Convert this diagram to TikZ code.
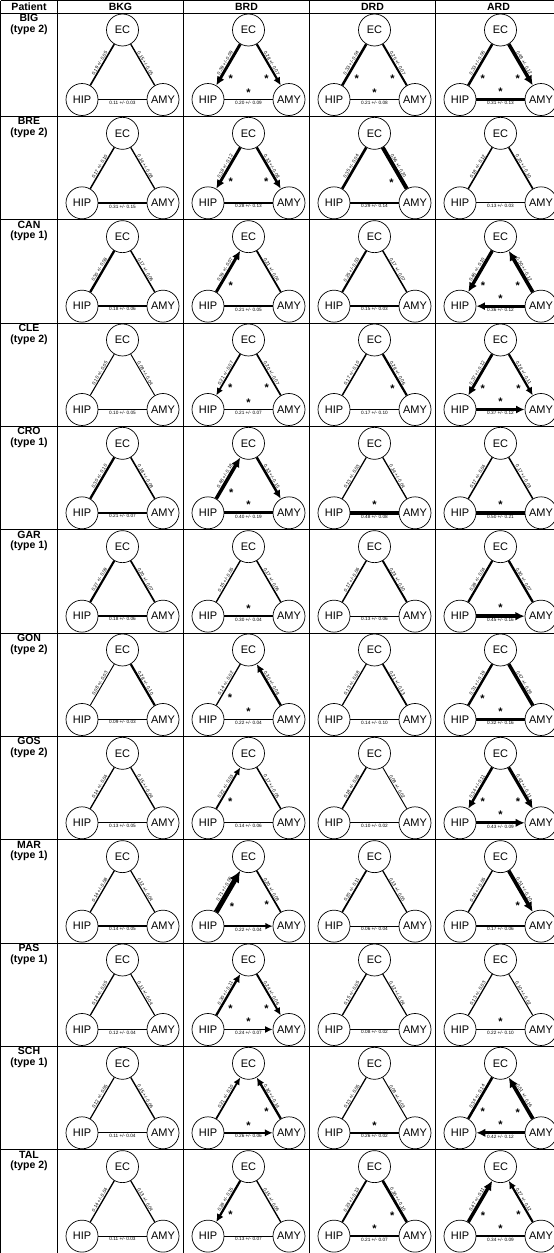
\documentclass[tikz,border=0pt]{standalone}
\usepackage{fontspec}
\setmainfont{Liberation Sans}
\usetikzlibrary{arrows.meta}

% one edge of a triangle: cell, arrow, value, error, star
\newcommand{\linkup}[5]{\draw[lnk, #2, line width=#3*6.5pt+0.4pt] (hip-#1) -- node[val, sloped] {#3 +/- #4} node[sig, pos=0.35] {#5} (ec-#1);}
\newcommand{\linkdown}[5]{\draw[lnk, #2, line width=#3*6.5pt+0.4pt] (ec-#1) -- node[val, sloped] {#3 +/- #4} node[sig, pos=0.65] {#5} (amy-#1);}
\newcommand{\linkbase}[5]{\draw[lnk, #2, line width=#3*6.5pt+0.4pt] (amy-#1) -- node[val] {#3 +/- #4} node[sig] {#5} (hip-#1);}

\begin{document}
\begin{tikzpicture}[x=1pt, y=1pt,
        >={Latex[length=5pt 1.3, width=4.5pt 1.3]},
        roi/.style={circle, draw, fill=white, line width=0.7pt, minimum size=32pt, inner sep=0pt, font=\fontsize{11}{12}\selectfont},
        lnk/.style={draw=black},
        val/.style={auto, inner sep=0.6pt, font=\fontsize{4.7}{5}\selectfont},
        sig/.style={auto=right, inner sep=2.6pt, font=\bfseries\fontsize{11}{11}\selectfont},
        patient/.style={anchor=north, align=center, inner sep=0pt, font=\bfseries\fontsize{10.5}{10.5}\selectfont},
        head/.style={inner sep=0pt, font=\bfseries\fontsize{10.5}{11}\selectfont},
        rule/.style={line width=0.6pt},
    ]
    \useasboundingbox (0,0) rectangle (554,-1253);

    % === table grid ===
    \draw[rule] (0.5,-0.5) -- (554,-0.5);
    \draw[rule] (0.5,-13) -- (554,-13);
    \foreach \r in {1,...,11}
        \draw[rule] (0.5,-13-103.33*\r) -- (554,-13-103.33*\r);
    \foreach \x in {0.5,57.5,183.5,309.5,435.5}
        \draw[rule] (\x,-0.5) -- (\x,-1253);

    % === header ===
    \node[head] (hd-p) at (29,-7) {Patient};
    \foreach \cond [count=\c from 0] in {BKG,BRD,DRD,ARD}
        \node[head] (hd-\c) at (120.5+126*\c,-7) {\cond};

    % === triangles ===
    \foreach \pat/\kind [count=\r from 0] in {BIG/2,BRE/2,CAN/1,CLE/2,CRO/1,GAR/1,GON/2,GOS/2,MAR/1,PAS/1,SCH/1,TAL/2} {
        \node[patient] (pat-\r) at (29,-14-103.33*\r) {\pat\\(type \kind)};
        \foreach \c in {0,...,3} {
            \node[roi] (ec-\r-\c) at (122.5+126*\c,-30-103.33*\r) {EC};
            \node[roi] (hip-\r-\c) at (82+126*\c,-99.5-103.33*\r) {HIP};
            \node[roi] (amy-\r-\c) at (163+126*\c,-99.5-103.33*\r) {AMY};
        }
    }

    % BIG
    \linkup{0-0}{-}{0.19}{0.05}{} \linkdown{0-0}{-}{0.15}{0.05}{} \linkbase{0-0}{-}{0.11}{0.03}{}
    \linkup{0-1}{<-}{0.39}{0.09}{*} \linkdown{0-1}{->}{0.28}{0.07}{*} \linkbase{0-1}{-}{0.20}{0.09}{*}
    \linkup{0-2}{-}{0.33}{0.04}{*} \linkdown{0-2}{-}{0.25}{0.07}{*} \linkbase{0-2}{-}{0.21}{0.08}{*}
    \linkup{0-3}{-}{0.33}{0.06}{*} \linkdown{0-3}{->}{0.49}{0.12}{*} \linkbase{0-3}{-}{0.31}{0.13}{*}
    % BRE
    \linkup{1-0}{-}{0.17}{0.10}{} \linkdown{1-0}{-}{0.14}{0.08}{} \linkbase{1-0}{-}{0.31}{0.15}{}
    \linkup{1-1}{<-}{0.38}{0.12}{*} \linkdown{1-1}{->}{0.33}{0.08}{*} \linkbase{1-1}{-}{0.28}{0.13}{}
    \linkup{1-2}{-}{0.35}{0.04}{} \linkdown{1-2}{-}{0.56}{0.20}{*} \linkbase{1-2}{-}{0.29}{0.14}{}
    \linkup{1-3}{-}{0.18}{0.12}{} \linkdown{1-3}{-}{0.20}{0.10}{} \linkbase{1-3}{-}{0.13}{0.03}{}
    % CAN
    \linkup{2-0}{-}{0.30}{0.08}{} \linkdown{2-0}{-}{0.17}{0.06}{} \linkbase{2-0}{-}{0.18}{0.06}{}
    \linkup{2-1}{->}{0.39}{0.07}{*} \linkdown{2-1}{-}{0.21}{0.04}{} \linkbase{2-1}{-}{0.21}{0.05}{}
    \linkup{2-2}{-}{0.25}{0.03}{} \linkdown{2-2}{-}{0.17}{0.07}{} \linkbase{2-2}{-}{0.15}{0.03}{}
    \linkup{2-3}{<-}{0.46}{0.10}{*} \linkdown{2-3}{<-}{0.50}{0.12}{*} \linkbase{2-3}{->}{0.36}{0.12}{*}
    % CLE
    \linkup{3-0}{-}{0.10}{0.05}{} \linkdown{3-0}{-}{0.08}{0.04}{} \linkbase{3-0}{-}{0.10}{0.05}{}
    \linkup{3-1}{<-}{0.21}{0.07}{*} \linkdown{3-1}{-}{0.20}{0.07}{*} \linkbase{3-1}{-}{0.21}{0.07}{*}
    \linkup{3-2}{-}{0.17}{0.10}{} \linkdown{3-2}{-}{0.28}{0.06}{*} \linkbase{3-2}{-}{0.17}{0.10}{}
    \linkup{3-3}{<-}{0.37}{0.12}{*} \linkdown{3-3}{->}{0.28}{0.11}{*} \linkbase{3-3}{<-}{0.37}{0.12}{*}
    % CRO
    \linkup{4-0}{-}{0.30}{0.10}{} \linkdown{4-0}{-}{0.18}{0.08}{} \linkbase{4-0}{-}{0.21}{0.07}{}
    \linkup{4-1}{->}{0.48}{0.18}{*} \linkdown{4-1}{->}{0.33}{0.15}{} \linkbase{4-1}{-}{0.40}{0.19}{*}
    \linkup{4-2}{-}{0.13}{0.03}{} \linkdown{4-2}{-}{0.14}{0.04}{} \linkbase{4-2}{-}{0.48}{0.08}{*}
    \linkup{4-3}{-}{0.17}{0.04}{} \linkdown{4-3}{-}{0.17}{0.03}{} \linkbase{4-3}{-}{0.50}{0.21}{*}
    % GAR
    \linkup{5-0}{-}{0.27}{0.09}{} \linkdown{5-0}{-}{0.20}{0.07}{} \linkbase{5-0}{-}{0.18}{0.06}{}
    \linkup{5-1}{-}{0.15}{0.05}{} \linkdown{5-1}{-}{0.17}{0.06}{} \linkbase{5-1}{-}{0.30}{0.04}{*}
    \linkup{5-2}{-}{0.17}{0.06}{} \linkdown{5-2}{-}{0.23}{0.10}{} \linkbase{5-2}{-}{0.13}{0.06}{}
    \linkup{5-3}{-}{0.28}{0.04}{} \linkdown{5-3}{-}{0.30}{0.07}{} \linkbase{5-3}{<-}{0.45}{0.16}{*}
    % GON
    \linkup{6-0}{-}{0.08}{0.03}{} \linkdown{6-0}{-}{0.28}{0.10}{} \linkbase{6-0}{-}{0.09}{0.03}{}
    \linkup{6-1}{-}{0.14}{0.02}{*} \linkdown{6-1}{<-}{0.30}{0.08}{} \linkbase{6-1}{-}{0.22}{0.04}{*}
    \linkup{6-2}{-}{0.13}{0.08}{} \linkdown{6-2}{-}{0.21}{0.13}{} \linkbase{6-2}{-}{0.14}{0.10}{}
    \linkup{6-3}{-}{0.31}{0.19}{*} \linkdown{6-3}{-}{0.47}{0.29}{} \linkbase{6-3}{-}{0.32}{0.16}{*}
    % GOS
    \linkup{7-0}{-}{0.14}{0.04}{} \linkdown{7-0}{-}{0.15}{0.04}{} \linkbase{7-0}{-}{0.13}{0.05}{}
    \linkup{7-1}{->}{0.22}{0.03}{*} \linkdown{7-1}{-}{0.17}{0.05}{} \linkbase{7-1}{-}{0.14}{0.06}{}
    \linkup{7-2}{-}{0.18}{0.05}{} \linkdown{7-2}{-}{0.08}{0.02}{} \linkbase{7-2}{-}{0.10}{0.02}{}
    \linkup{7-3}{<-}{0.34}{0.11}{*} \linkdown{7-3}{->}{0.42}{0.11}{*} \linkbase{7-3}{<-}{0.43}{0.09}{*}
    % MAR
    \linkup{8-0}{-}{0.14}{0.08}{} \linkdown{8-0}{-}{0.12}{0.04}{} \linkbase{8-0}{-}{0.14}{0.05}{}
    \linkup{8-1}{->}{0.71}{0.06}{*} \linkdown{8-1}{-}{0.20}{0.08}{*} \linkbase{8-1}{<-}{0.22}{0.04}{}
    \linkup{8-2}{-}{0.20}{0.11}{} \linkdown{8-2}{-}{0.13}{0.05}{} \linkbase{8-2}{-}{0.06}{0.04}{}
    \linkup{8-3}{-}{0.16}{0.05}{} \linkdown{8-3}{->}{0.51}{0.10}{*} \linkbase{8-3}{-}{0.17}{0.06}{}
    % PAS
    \linkup{9-0}{-}{0.14}{0.05}{} \linkdown{9-0}{-}{0.11}{0.04}{} \linkbase{9-0}{-}{0.12}{0.04}{}
    \linkup{9-1}{->}{0.30}{0.11}{*} \linkdown{9-1}{->}{0.24}{0.06}{*} \linkbase{9-1}{<-}{0.24}{0.07}{*}
    \linkup{9-2}{-}{0.15}{0.05}{} \linkdown{9-2}{-}{0.12}{0.04}{} \linkbase{9-2}{-}{0.08}{0.02}{}
    \linkup{9-3}{-}{0.13}{0.03}{} \linkdown{9-3}{-}{0.10}{0.02}{} \linkbase{9-3}{-}{0.22}{0.10}{*}
    % SCH
    \linkup{10-0}{-}{0.12}{0.05}{} \linkdown{10-0}{-}{0.15}{0.06}{} \linkbase{10-0}{-}{0.11}{0.04}{}
    \linkup{10-1}{->}{0.21}{0.10}{} \linkdown{10-1}{<-}{0.30}{0.14}{*} \linkbase{10-1}{<-}{0.26}{0.06}{*}
    \linkup{10-2}{-}{0.13}{0.05}{} \linkdown{10-2}{-}{0.09}{0.03}{} \linkbase{10-2}{-}{0.26}{0.02}{*}
    \linkup{10-3}{-}{0.34}{0.14}{*} \linkdown{10-3}{<-}{0.51}{0.16}{*} \linkbase{10-3}{->}{0.42}{0.12}{*}
    % TAL
    \linkup{11-0}{-}{0.14}{0.04}{} \linkdown{11-0}{-}{0.13}{0.04}{} \linkbase{11-0}{-}{0.11}{0.03}{}
    \linkup{11-1}{<-}{0.28}{0.15}{*} \linkdown{11-1}{-}{0.15}{0.06}{} \linkbase{11-1}{-}{0.13}{0.07}{}
    \linkup{11-2}{-}{0.23}{0.13}{} \linkdown{11-2}{-}{0.36}{0.10}{*} \linkbase{11-2}{-}{0.21}{0.07}{*}
    \linkup{11-3}{->}{0.47}{0.11}{*} \linkdown{11-3}{<-}{0.27}{0.12}{*} \linkbase{11-3}{-}{0.34}{0.09}{*}
\end{tikzpicture}
\end{document}
